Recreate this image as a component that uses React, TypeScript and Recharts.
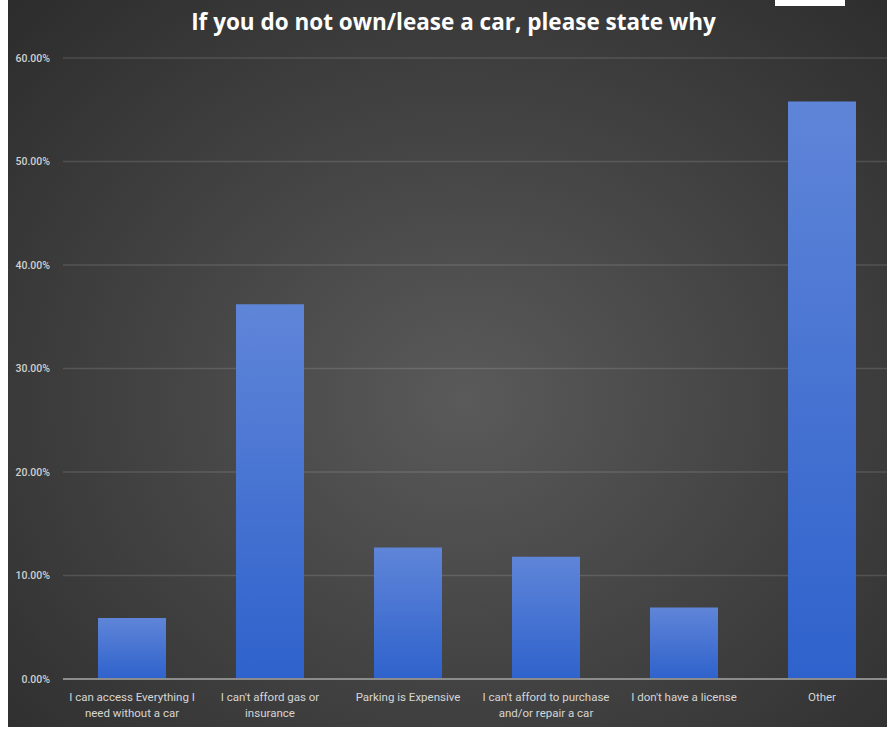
import { Bar, BarChart, CartesianGrid, XAxis, YAxis } from "recharts";

const categories = [
  "I can access Everything I need without a car",
  "I can't afford gas or insurance",
  "Parking is Expensive",
  "I can't afford to purchase and/or repair a car",
  "I don't have a license",
  "Other",
];
const shares = [5.9, 36.2, 12.7, 11.8, 6.9, 55.8];
const yTicks = [0, 10, 20, 30, 40, 50, 60];

const data = categories.map((name, i) => ({ name, value: shares[i] }));

function wrap(text: string, max = 26) {
  const lines: string[] = [];
  let cur = "";
  for (const w of text.split(" ")) {
    const next = cur ? cur + " " + w : w;
    if (next.length > max && cur) {
      lines.push(cur);
      cur = w;
    } else cur = next;
  }
  if (cur) lines.push(cur);
  return lines;
}

function CategoryTick({ x, y, payload }: any) {
  const lines = wrap(payload.value);
  return (
    <text x={x} y={y + 14} textAnchor="middle" fill="#d6d6d6" fontSize={11.5} fontFamily="Roboto, sans-serif">
      {lines.map((l, i) => (
        <tspan key={i} x={x} dy={i === 0 ? 0 : 16}>
          {l}
        </tspan>
      ))}
    </text>
  );
}

export default function App() {
  return (
    <div style={{ position: "absolute", left: 0, top: 0, width: 887, height: 730, background: "#fff", overflow: "hidden" }}>
      <svg width={0} height={0} style={{ position: "absolute" }}>
        <defs>
          <linearGradient id="bar-blue" x1="0" y1="0" x2="0" y2="1">
            <stop offset="0%" stopColor="#5f85d8" />
            <stop offset="100%" stopColor="#2f62cc" />
          </linearGradient>
        </defs>
      </svg>
      <div
        style={{
          position: "absolute",
          left: 8,
          top: 0,
          width: 879,
          height: 727,
          overflow: "hidden",
          background: "radial-gradient(ellipse at 52% 55%, #5a5a5a 0%, #474747 40%, #2c2c2c 100%)",
        }}
      >
        <div
          style={{
            position: "absolute",
            top: 6,
            left: 6,
            width: 879,
            textAlign: "center",
            color: "#fff",
            fontFamily: "'Open Sans', sans-serif",
            fontWeight: 700,
            fontSize: 22.5,
          }}
        >
          If you do not own/lease a car, please state why
        </div>
        <BarChart width={883} height={727} data={data} margin={{ top: 58, right: 0, bottom: 0, left: 0 }}>
          <CartesianGrid vertical={false} stroke="rgba(255,255,255,0.13)" strokeWidth={1.5} />
          <XAxis
            dataKey="name"
            interval={0}
            height={48}
            tickLine={false}
            axisLine={{ stroke: "#8c8c8c", strokeWidth: 2 }}
            tick={<CategoryTick />}
          />
          <YAxis
            width={55}
            domain={[0, 60]}
            ticks={yTicks}
            tickLine={false}
            axisLine={false}
            tickMargin={7}
            tickFormatter={(v) => `${v.toFixed(2)}%`}
            tick={{ fill: "#d0d0d0", fontSize: 10.5, fontWeight: 500, fontFamily: "Roboto, sans-serif" }}
          />
          <Bar dataKey="value" barSize={68} fill="url(#bar-blue)" isAnimationActive={false} />
        </BarChart>
      </div>
      <div style={{ position: "absolute", left: 775, top: 0, width: 70, height: 6, background: "#fff" }} />
    </div>
  );
}
